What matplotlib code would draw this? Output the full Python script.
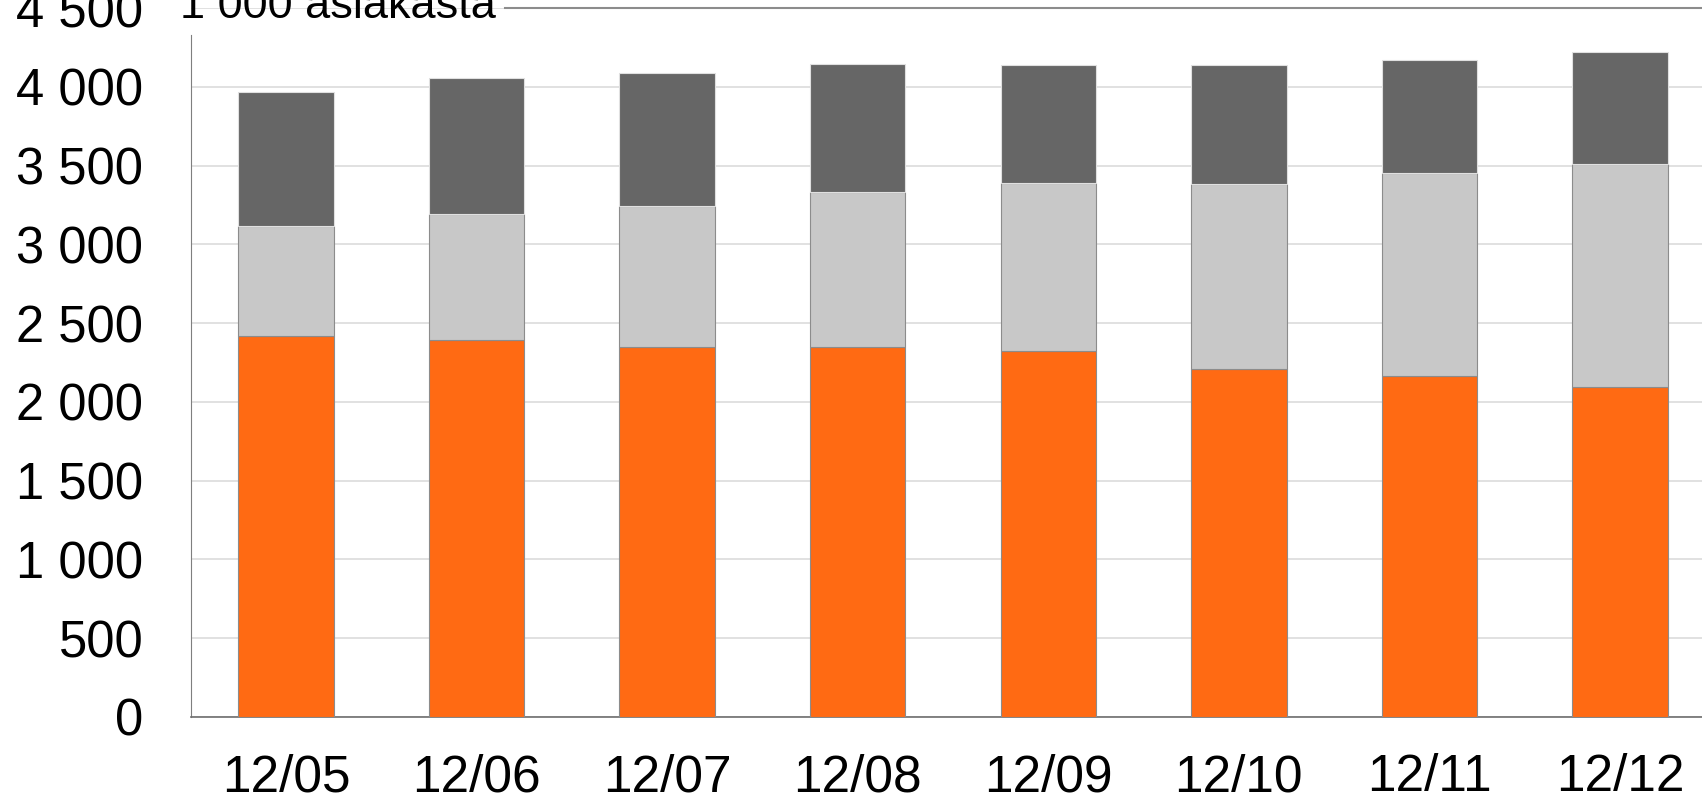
import numpy as np
import matplotlib.pyplot as plt

# --- Datos ---
periods = ["12/05", "12/06", "12/07", "12/08", "12/09", "12/10", "12/11", "12/12"]
orange_vals = [2417, 2396, 2348, 2348, 2320, 2210, 2162, 2093]
light_vals = [702, 798, 895, 984, 1067, 1170, 1294, 1418]
dark_vals = [847, 861, 847, 813, 751, 758, 716, 709]
yticks = [0, 500, 1000, 1500, 2000, 2500, 3000, 3500, 4000, 4500]
unit_label = "1 000 asiakasta"

plt.rcParams["font.family"] = ["Liberation Sans", "DejaVu Sans"]

fig = plt.figure(figsize=(17.02, 8.02), dpi=100)
ax = fig.add_axes([0.112, 0.106, 0.888, 0.884])

x = np.arange(len(periods))
orange = np.array(orange_vals)
light = np.array(light_vals)
dark = np.array(dark_vals)
edge = "#8c8c8c"
ax.bar(x, orange, width=0.5, color="#FF6A13", edgecolor=edge, linewidth=0.8, zorder=3)
ax.bar(x, light, width=0.5, bottom=orange, color="#C8C8C8", edgecolor=edge, linewidth=0.8, zorder=3)
ax.bar(x, dark, width=0.5, bottom=orange + light, color="#666666", edgecolor="#e0e0e0", linewidth=0.8, zorder=3)

ax.set_xlim(-0.5, 7.43)
ax.set_ylim(0, 4500)
ax.set_yticks(yticks)
ax.set_yticklabels([f"{v:,}".replace(",", " ") for v in yticks])
ax.set_xticks(x)
ax.set_xticklabels(periods)
ax.tick_params(axis="y", length=0, pad=34, labelsize=36.5)
ax.tick_params(axis="x", length=0, pad=26, labelsize=37)
ax.yaxis.grid(True, color="#dcdcdc", linewidth=1.2, zorder=0)
ax.set_axisbelow(True)

for s in ["top", "right"]:
    ax.spines[s].set_visible(False)
ax.spines["left"].set_color("#7f7f7f")
ax.spines["left"].set_bounds(0, 4331)
ax.spines["bottom"].set_color("#6e6e6e")
ax.spines["bottom"].set_linewidth(1.2)
ax.axhline(4500, xmin=0.208, xmax=1, color="#8c8c8c", linewidth=1.5, clip_on=False)

fig.text(180 / 1702, 1 - 18 / 802, unit_label, fontsize=32.5, va="baseline", ha="left")

fig.savefig("out.png", dpi=100)
